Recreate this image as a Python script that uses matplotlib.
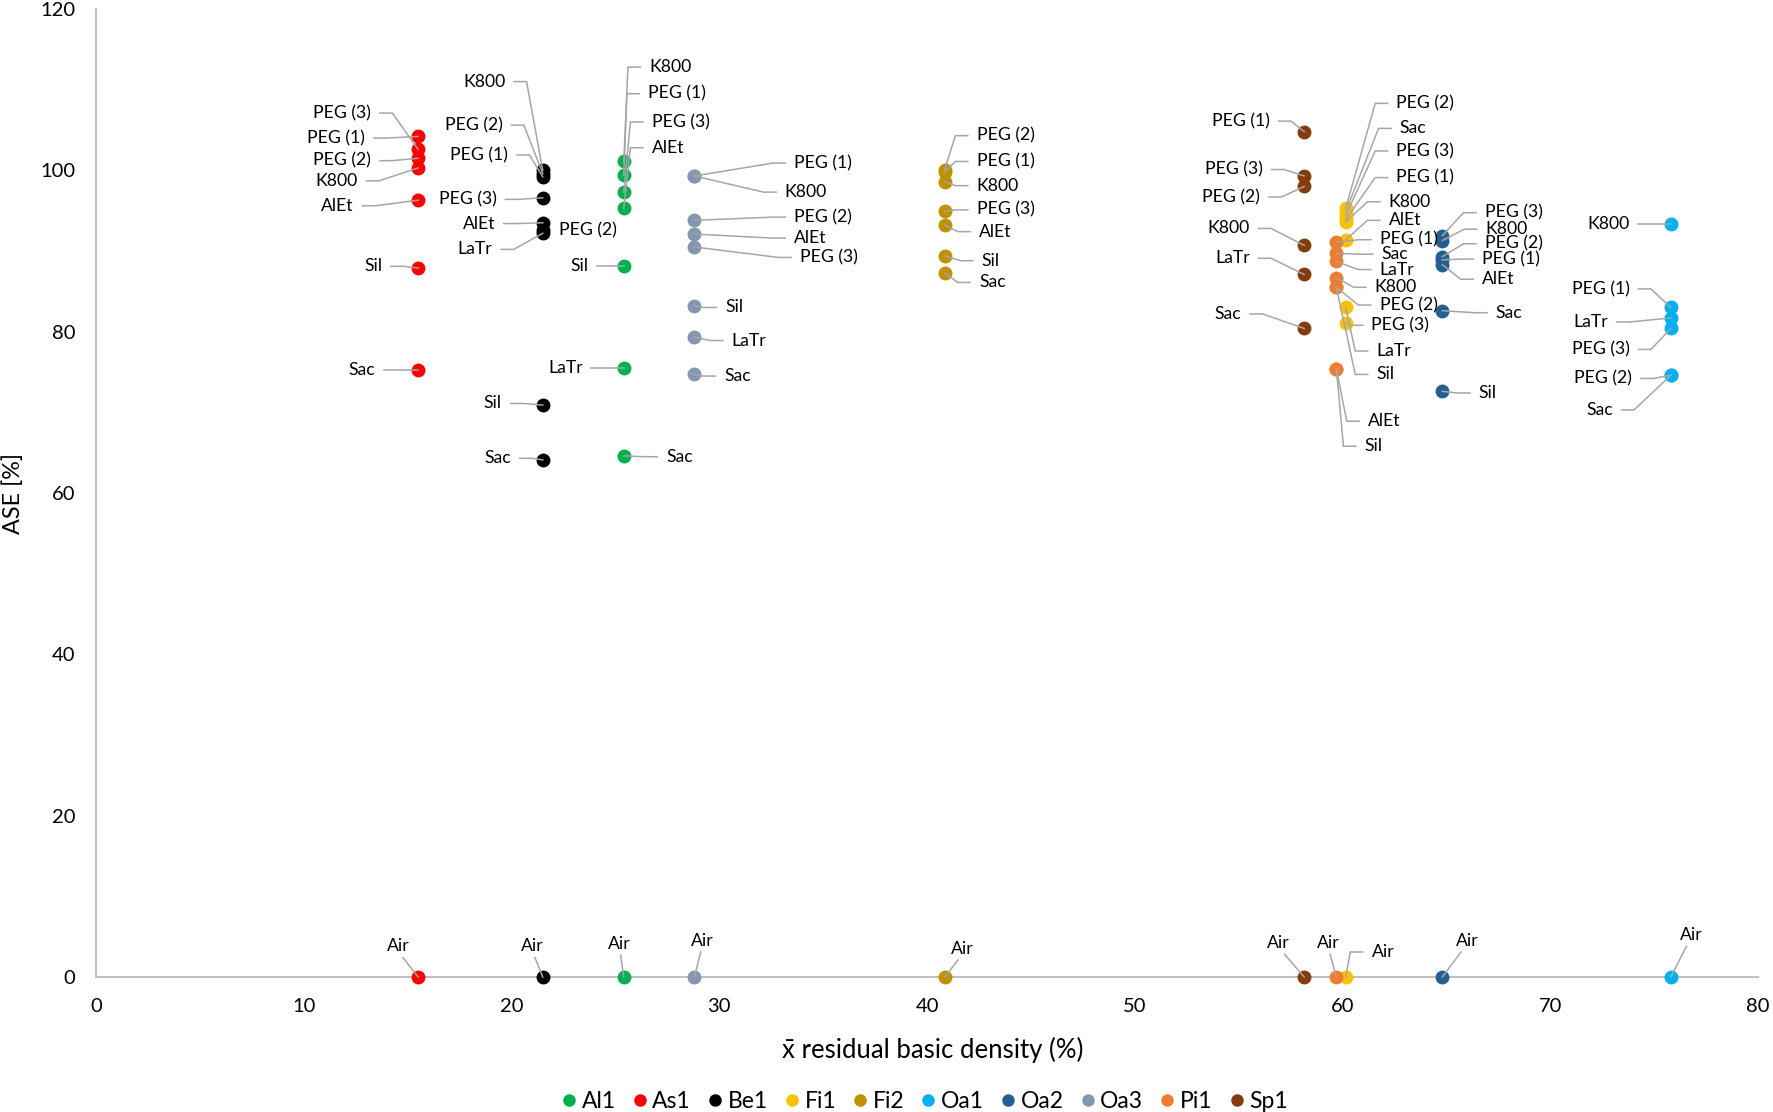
import matplotlib
matplotlib.use("Agg")
import matplotlib.pyplot as plt
from matplotlib.lines import Line2D

plt.rcParams["font.family"] = ["Lato", "DejaVu Sans"]

SERIES = ["Al1", "As1", "Be1", "Fi1", "Fi2", "Oa1", "Oa2", "Oa3", "Pi1", "Sp1"]
COLORS = ["#00B050", "#FF0000", "#000000", "#FFC000", "#BF9000",
          "#00B0F0", "#255E91", "#8497B0", "#ED7D31", "#843C0C"]

# mean residual basic density (%) of each species
DENSITY = [25.4, 15.5, 21.5, 60.15, 40.85, 75.8, 64.8, 28.8, 59.7, 58.15]

# treatment names and ASE (%) per species
AL1_NAMES = ["K800", "PEG (1)", "PEG (3)", "AlEt", "Sil", "LaTr", "Sac", "Air"]
AL1_ASE = [101.1, 99.4, 97.3, 95.3, 88.1, 75.5, 64.6, 0]

AS1_NAMES = ["PEG (3)", "PEG (1)", "PEG (2)", "K800", "AlEt", "Sil", "Sac", "Air"]
AS1_ASE = [102.6, 104.2, 101.5, 100.3, 96.3, 87.9, 75.3, 0]

BE1_NAMES = ["K800", "PEG (2)", "PEG (1)", "PEG (3)", "AlEt", "LaTr", "PEG (2)", "Sil", "Sac", "Air"]
BE1_ASE = [100.0, 99.6, 99.2, 96.6, 93.5, 92.2, 92.6, 70.9, 64.1, 0]

FI1_NAMES = ["PEG (2)", "Sac", "PEG (3)", "PEG (1)", "K800", "AlEt", "PEG (3)", "LaTr", "Air"]
FI1_ASE = [95.3, 94.9, 94.4, 93.9, 93.6, 91.4, 81.1, 83.0, 0]

FI2_NAMES = ["PEG (2)", "PEG (1)", "K800", "PEG (3)", "AlEt", "Sil", "Sac", "Air"]
FI2_ASE = [100.1, 99.8, 98.6, 94.9, 93.2, 89.4, 87.3, 0]

OA1_NAMES = ["K800", "PEG (1)", "LaTr", "PEG (3)", "PEG (2)", "Sac", "Air"]
OA1_ASE = [93.4, 83.0, 81.7, 80.4, 74.6, 74.6, 0]

OA2_NAMES = ["PEG (3)", "K800", "PEG (2)", "PEG (1)", "AlEt", "Sac", "Sil", "Air"]
OA2_ASE = [91.9, 91.3, 89.3, 88.9, 88.3, 82.6, 72.6, 0]

OA3_NAMES = ["PEG (1)", "K800", "PEG (2)", "AlEt", "PEG (3)", "Sil", "LaTr", "Sac", "Air"]
OA3_ASE = [99.3, 99.3, 93.8, 92.1, 90.5, 83.2, 79.3, 74.7, 0]

PI1_NAMES = ["PEG (1)", "Sac", "LaTr", "K800", "PEG (2)", "Sil", "AlEt", "Sil", "Air"]
PI1_ASE = [91.1, 89.7, 88.7, 86.7, 85.5, 85.5, 75.4, 75.4, 0]

SP1_NAMES = ["PEG (1)", "PEG (3)", "PEG (2)", "K800", "LaTr", "Sac", "Air"]
SP1_ASE = [104.8, 99.3, 98.0, 90.7, 87.1, 80.4, 0]

NAMES = [AL1_NAMES, AS1_NAMES, BE1_NAMES, FI1_NAMES, FI2_NAMES,
         OA1_NAMES, OA2_NAMES, OA3_NAMES, PI1_NAMES, SP1_NAMES]
ASE = [AL1_ASE, AS1_ASE, BE1_ASE, FI1_ASE, FI2_ASE,
       OA1_ASE, OA2_ASE, OA3_ASE, PI1_ASE, SP1_ASE]

# label placement (x, y, side): L = left of point, R = right, T = above, N = no leader
LABEL_POS = [
    [(26.62, 112.8, "R"), (26.57, 109.5, "R"), (26.74, 106.0, "R"), (26.74, 102.8, "R"),
     (23.69, 88.1, "L"), (23.42, 75.5, "L"), (27.43, 64.5, "R"), (25.2, 4.1, "T")],
    [(13.24, 107.1, "L"), (12.95, 104.0, "L"), (13.24, 101.2, "L"), (12.6, 98.7, "L"),
     (12.4, 95.6, "L"), (13.77, 88.1, "L"), (13.45, 75.3, "L"), (14.53, 3.8, "T")],
    [(19.7, 111.0, "L"), (19.57, 105.6, "L"), (19.84, 101.9, "L"), (19.28, 96.4, "L"),
     (19.2, 93.4, "L"), (19.08, 90.2, "L"), (22.3, 92.6, "N"), (19.53, 71.1, "L"),
     (19.97, 64.3, "L"), (21.0, 3.8, "T")],
    [(62.59, 108.3, "R"), (62.75, 105.2, "R"), (62.59, 102.4, "R"), (62.59, 99.1, "R"),
     (62.22, 96.1, "R"), (62.22, 93.8, "R"), (61.39, 80.8, "R"), (61.63, 77.6, "R"),
     (61.39, 3.1, "R")],
    [(42.38, 104.3, "R"), (42.38, 101.1, "R"), (42.38, 98.1, "R"), (42.38, 95.1, "R"),
     (42.5, 92.4, "R"), (42.62, 88.8, "R"), (42.5, 86.1, "R"), (41.7, 3.5, "T")],
    [(73.82, 93.4, "L"), (73.82, 85.3, "L"), (72.77, 81.2, "L"), (73.82, 77.8, "L"),
     (73.94, 74.2, "L"), (73.01, 70.3, "L"), (76.8, 5.2, "T")],
    [(66.84, 94.75, "R"), (66.87, 92.7, "R"), (66.84, 90.9, "R"), (66.71, 89.0, "R"),
     (66.71, 86.5, "R"), (67.37, 82.35, "R"), (66.55, 72.4, "R"), (66.0, 4.5, "T")],
    [(33.59, 100.9, "R"), (33.15, 97.3, "R"), (33.59, 94.2, "R"), (33.59, 91.6, "R"),
     (33.87, 89.2, "R"), (30.28, 83.0, "R"), (30.59, 78.9, "R"), (30.23, 74.5, "R"),
     (29.2, 4.5, "T")],
    [(61.78, 91.4, "R"), (61.87, 89.6, "R"), (61.78, 87.7, "R"), (61.55, 85.5, "R"),
     (61.78, 83.3, "R"), (61.63, 74.7, "R"), (61.22, 68.9, "R"), (61.06, 65.8, "R"),
     (59.3, 4.2, "T")],
    [(56.5, 106.1, "L"), (56.17, 100.1, "L"), (56.04, 96.7, "L"), (55.53, 92.8, "L"),
     (55.53, 89.1, "L"), (55.13, 82.2, "L"), (56.9, 4.2, "T")],
]

LEADER = "#A6A6A6"
AXIS_GREY = "#BFBFBF"
LABEL_SIZE = 12.7
GAP = 0.42   # x units between text and start of leader stub
STUB = 0.6   # x units, horizontal stub of the leader


def draw_label(ax, text, px, py, lx, ly, side):
    if side == "L":
        ax.text(lx, ly, text, ha="right", va="center", fontsize=LABEL_SIZE, zorder=5)
        x0 = lx + GAP
        ax.plot([x0, x0 + STUB, px], [ly, ly, py], color=LEADER, lw=1.1,
                zorder=4, clip_on=False, solid_joinstyle="miter")
    elif side == "R":
        ax.text(lx, ly, text, ha="left", va="center", fontsize=LABEL_SIZE, zorder=5)
        x0 = lx - GAP
        ax.plot([x0, x0 - STUB, px], [ly, ly, py], color=LEADER, lw=1.1,
                zorder=4, clip_on=False, solid_joinstyle="miter")
    elif side == "T":
        ax.text(lx, ly, text, ha="center", va="center", fontsize=LABEL_SIZE, zorder=5)
        ax.plot([lx + 0.25 * (px - lx), px], [ly - 1.4, py], color=LEADER, lw=1.1,
                zorder=4, clip_on=False)
    else:
        ax.text(lx, ly, text, ha="left", va="center", fontsize=LABEL_SIZE, zorder=5)


def main():
    fig = plt.figure(figsize=(17.73, 11.12), dpi=100)
    ax = fig.add_axes([0.0542, 0.1214, 0.9374, 0.8705])

    for name, color, x, ase in zip(SERIES, COLORS, DENSITY, ASE):
        ax.plot([x] * len(ase), ase, "o", color=color, ms=10, mew=0,
                zorder=3, clip_on=False, label=name)

    for x, names, ase, pos in zip(DENSITY, NAMES, ASE, LABEL_POS):
        for text, y, (lx, ly, side) in zip(names, ase, pos):
            draw_label(ax, text, x, y, lx, ly, side)

    ax.set_xlim(0, 80)
    ax.set_ylim(0, 120)
    ax.set_xticks(range(0, 81, 10))
    ax.set_yticks(range(0, 121, 20))
    ax.tick_params(axis="both", length=0, labelsize=14.5)
    ax.tick_params(axis="y", pad=15)
    ax.tick_params(axis="x", pad=15)
    for side in ("top", "right"):
        ax.spines[side].set_visible(False)
    for side in ("left", "bottom"):
        ax.spines[side].set_color(AXIS_GREY)
        ax.spines[side].set_linewidth(1.4)

    fig.text(0.5262, 0.0558, "x\u0304 residual basic density (%)", ha="center", va="center",
             fontsize=18.5)
    fig.text(0.0075, 0.5558, "ASE [%]", ha="center", va="center", rotation=90, fontsize=16.8)

    handles = [Line2D([], [], marker="o", ls="none", color=c, ms=9, mew=0) for c in COLORS]
    fig.legend(handles, SERIES, loc="center", bbox_to_anchor=(0.522, 0.0095), ncol=10,
               frameon=False, fontsize=16.5, handlelength=0.5, handletextpad=0.3,
               columnspacing=0.8, borderaxespad=0, borderpad=0)

    fig.savefig("out.png", dpi=100)
    plt.close(fig)


if __name__ == "__main__":
    main()
